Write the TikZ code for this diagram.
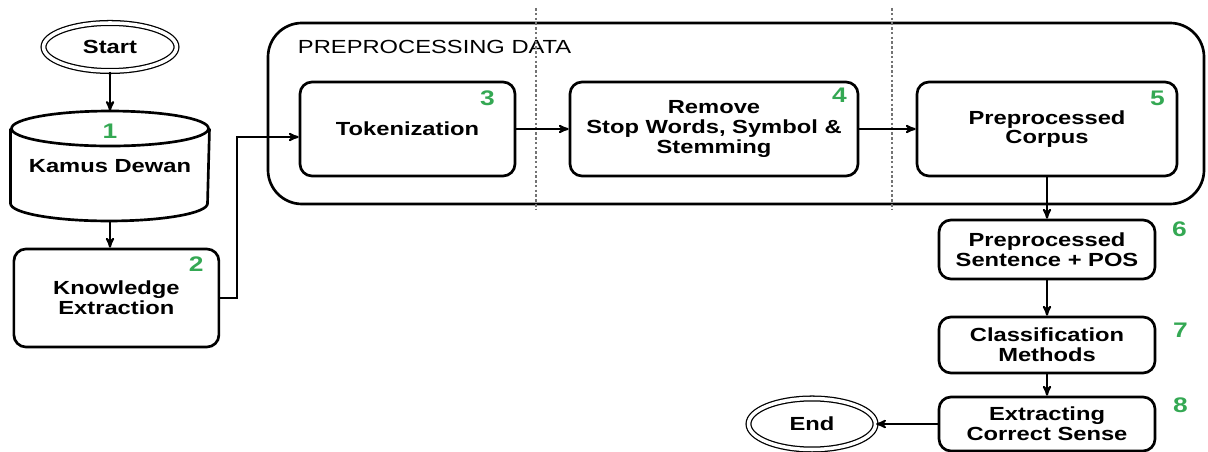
\documentclass[tikz,border=0pt]{standalone}
\usepackage{fontspec}
\setmainfont{Liberation Sans}[FakeStretch=1.25]
\usepackage{tikz}
\usetikzlibrary{arrows,shapes.geometric}
\definecolor{numgreen}{RGB}{52,168,83}

\begin{document}
\begin{tikzpicture}[->,>=stealth',auto,node distance=2.3cm,
                    line width=1.4pt]
  \tikzstyle{every node}=[font=\bfseries\fontsize{13.5}{14}\selectfont,align=center]
  \tikzstyle{process}=[draw,rounded corners=0.3cm,line width=1.9pt,minimum height=2.35cm,inner sep=2pt]
  \tikzstyle{stage}=[process,minimum width=5.4cm]
  \tikzstyle{database}=[minimum width=4.925cm,minimum height=2.7cm,inner sep=0pt]
  \tikzstyle{drum}=[-,line width=1.9pt]
  \tikzstyle{terminal}=[ellipse,draw,double,double distance=2.5pt,line width=0.9pt,
                        minimum width=3.325cm,minimum height=1.2cm,inner sep=0pt]
  \tikzstyle{group}=[draw,rounded corners=0.85cm,line width=1.9pt,minimum width=23.4cm,minimum height=4.525cm]
  \tikzstyle{title}=[font=\fontsize{13.5}{14}\selectfont,anchor=west,inner sep=0pt]
  \tikzstyle{num}=[text=numgreen,font=\bfseries\fontsize{15}{15}\selectfont,inner sep=0pt]
  \tikzstyle{sep}=[-,black!55,line width=1.1pt,dash pattern=on 1.8pt off 1.6pt]

  \useasboundingbox (0,0) rectangle (30.2,-11.3);

  \node[terminal] (start) at (2.75,-1.175) {Start};
  \node[database] (kamus) [below of=start, node distance=2.975cm] {Kamus Dewan};
  \draw[drum] ([yshift=-0.4375cm]kamus.north) ellipse (2.4625cm and 0.4375cm);
  \draw[drum] ([yshift=-0.4375cm]kamus.north west) -- ([yshift=0.4375cm]kamus.south west)
              arc (180:360:2.4625cm and 0.4375cm) -- ([yshift=-0.4375cm]kamus.north east);
  \node[process,minimum width=5.125cm,minimum height=2.45cm] (know) [below of=kamus, node distance=3.3cm, xshift=0.16cm] {Knowledge\\Extraction};

  \node[group] (prep) at (18.4,-2.8375) {};
  \node[title] (preptitle) at (7.425,-1.175) {PREPROCESSING DATA};
  \draw[sep] (13.4,-0.2) -- (13.4,-5.25);
  \draw[sep] (22.3,-0.2) -- (22.3,-5.25);

  \node[process,minimum width=5.375cm] (tok) at (10.1875,-3.225) {Tokenization};
  \node[process,minimum width=7.2cm] (rem) [right of=tok, node distance=7.6625cm] {Remove\\Stop Words, Symbol \&\\Stemming};
  \node[process,minimum width=6.5cm] (corp) [right of=rem, node distance=8.325cm] {Preprocessed\\Corpus};

  \node[stage,minimum height=1.475cm] (sent) [below of=corp, node distance=3.0125cm] {Preprocessed\\Sentence + POS};
  \node[stage,minimum height=1.4cm] (cls) [below of=sent, node distance=2.3875cm] {Classification\\Methods};
  \node[stage,minimum height=1.35cm] (ext) [below of=cls, node distance=1.975cm] {Extracting\\Correct Sense};
  \node[terminal,minimum width=3.175cm,minimum height=1.275cm] (finish) [left of=ext, node distance=5.875cm] {End};

  % step numbers
  \node[num] (n1) at ([yshift=-0.5cm]kamus.north) {1};
  \node[num] (n2) at ([xshift=-0.6cm,yshift=-0.4cm]know.north east) {2};
  \node[num] (n3) at ([xshift=-0.725cm,yshift=-0.45cm]tok.north east) {3};
  \node[num] (n4) at ([xshift=-0.5cm,yshift=-0.375cm]rem.north east) {4};
  \node[num] (n5) at ([xshift=-0.525cm,yshift=-0.45cm]corp.north east) {5};
  \node[num] (n6) at ([xshift=0.575cm,yshift=-0.275cm]sent.north east) {6};
  \node[num] (n7) at ([xshift=0.6cm,yshift=-0.375cm]cls.north east) {7};
  \node[num] (n8) at ([xshift=0.6cm,yshift=-0.25cm]ext.north east) {8};

  \path (start) edge (kamus.north)
        (kamus.south) edge (kamus.south |- know.north)
        (tok) edge (rem)
        (rem) edge (corp)
        (corp.south) edge (corp.south |- sent.north)
        (sent) edge (cls)
        (cls) edge (ext)
        (ext) edge (finish);
  \draw (know.east) -- ++(0.425,0) |- ([yshift=-0.2cm]tok.west);
\end{tikzpicture}
\end{document}
